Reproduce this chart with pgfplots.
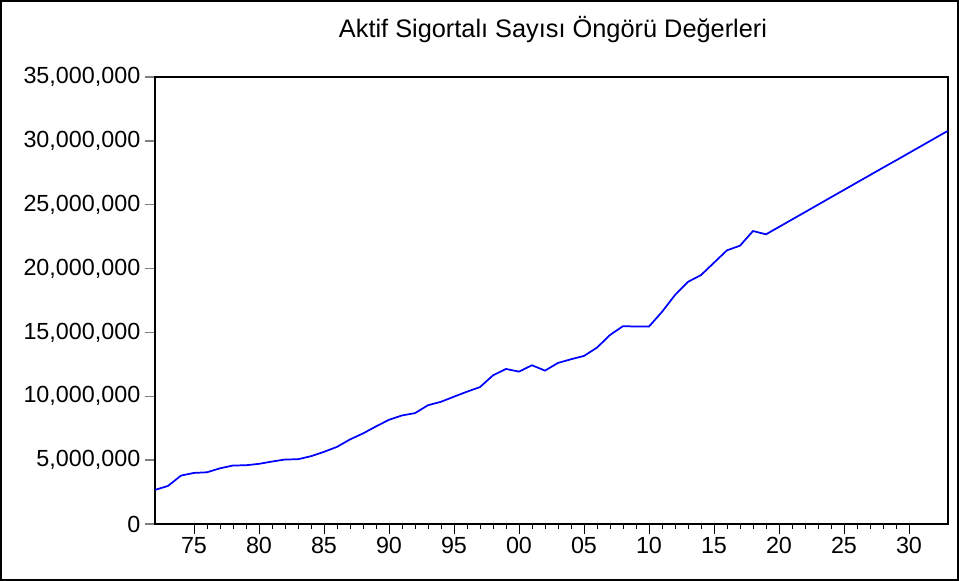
\documentclass[border=0pt]{standalone}
\usepackage{pgfplots}
\pgfplotsset{compat=1.18}
\usepackage{fontspec}
\setmainfont{Liberation Sans}
\definecolor{serie}{RGB}{0,0,255}
\begin{document}
\begin{tikzpicture}
\useasboundingbox (-116.25pt,-42.75pt) rectangle (603pt,393pt);
\begin{axis}[
  at={(0pt,0pt)}, anchor=south west,
  width=594.75pt, height=335.25pt, scale only axis,
  xmin=1972, xmax=2033, ymin=0, ymax=35000000,
  xtick={1975,1980,1985,1990,1995,2000,2005,2010,2015,2020,2025,2030},
  xticklabels={75,80,85,90,95,00,05,10,15,20,25,30},
  minor x tick num=4,
  ytick={0,5000000,10000000,15000000,20000000,25000000,30000000,35000000},
  scaled y ticks=false,
  yticklabel style={/pgf/number format/.cd, fixed, 1000 sep={,}},
  /pgf/number format/assume math mode=true,
  tick align=outside,
  major tick length=7.5pt, minor tick length=3.75pt,
  xtick pos=bottom, ytick pos=left,
  x tick style={black, line width=0.6pt},
  y tick style={gray, line width=1pt},
  axis line style={line width=1pt},
  tick label style={font=\fontsize{17.5}{20}\selectfont},
  xticklabel style={yshift=1pt},
]
\addplot[serie, line width=1.3pt] coordinates {
 (1972,2670000) (1973,2980000) (1974,3790000) (1975,4000000) (1976,4050000)
 (1977,4360000) (1978,4580000) (1979,4600000) (1980,4710000) (1981,4890000)
 (1982,5050000) (1983,5070000) (1984,5310000) (1985,5650000) (1986,6040000)
 (1987,6620000) (1988,7090000) (1989,7640000) (1990,8160000) (1991,8500000)
 (1992,8680000) (1993,9300000) (1994,9570000) (1995,9970000) (1996,10360000)
 (1997,10720000) (1998,11640000) (1999,12140000) (2000,11930000) (2001,12430000)
 (2002,12010000) (2003,12610000) (2004,12900000) (2005,13160000) (2006,13810000)
 (2007,14800000) (2008,15490000) (2009,15460000) (2010,15460000) (2011,16610000)
 (2012,17930000) (2013,18960000) (2014,19490000) (2015,20460000) (2016,21430000)
 (2017,21790000) (2018,22940000) (2019,22680000) (2020,23260000) (2021,23840000)
 (2022,24420000) (2023,25000000) (2024,25580000) (2025,26160000) (2026,26740000)
 (2027,27320000) (2028,27900000) (2029,28470000) (2030,29050000) (2031,29630000)
 (2032,30210000) (2033,30790000)
};
\end{axis}
\node[font=\fontsize{19}{22}\selectfont] at (298.5pt,370.5pt) {Aktif Sigortalı Sayısı Öngörü Değerleri};
\draw[line width=1.5pt] (-115.5pt,-42pt) rectangle (602.25pt,392.25pt);
\end{tikzpicture}
\end{document}
